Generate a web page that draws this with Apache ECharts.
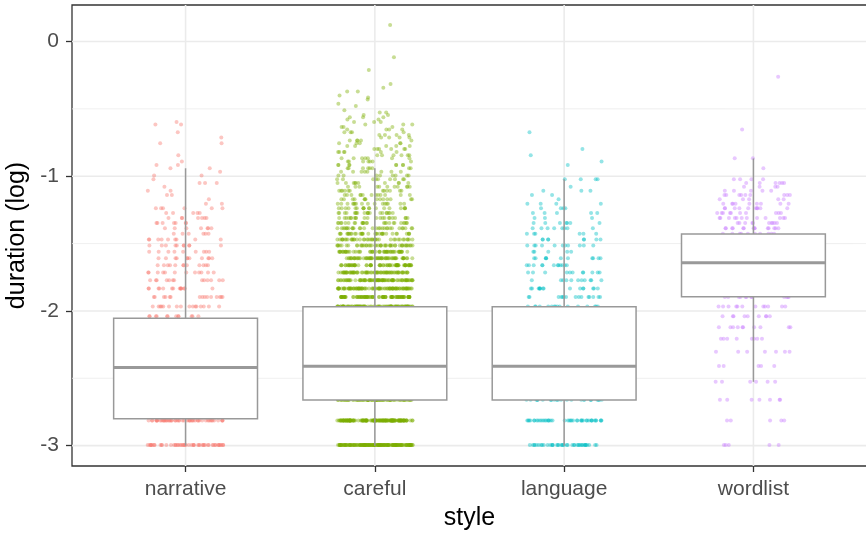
<!DOCTYPE html>
<html>
<head>
<meta charset="utf-8">
<script src="https://cdn.jsdelivr.net/npm/echarts@6/dist/echarts.min.js"></script>
<style>
  html, body { margin: 0; padding: 0; background: #fff; }
  #main { width: 866px; height: 535px; }
</style>
</head>
<body>
<div id="main"></div>
<script>
// 类别 / categories
var styles = ['narrative', 'careful', 'language', 'wordlist'];
var colors = ['#F8766D', '#7CAE00', '#00BFC4', '#C77CFF'];
var yTicks = [-3, -2, -1, 0];
var yMinor = [-2.5, -1.5, -0.5];

// box stats, log duration: [lower whisker, Q1, median, Q3, upper whisker]
var narrativeBox = [-3.0, -2.80, -2.42, -2.055, -0.941];
var carefulBox = [-3.0, -2.661, -2.41, -1.969, -0.94];
var languageBox = [-3.0, -2.661, -2.41, -1.969, -1.022];
var wordlistBox = [-2.526, -1.895, -1.642, -1.429, -0.868];

// jittered points: duration (s) and how many points sit at that duration
// (only the points that show outside the boxes)
var narrativeDur = [0.05, 0.06, 0.13, 0.14, 0.15, 0.16, 0.17, 0.18, 0.19, 0.20, 0.21, 0.22, 0.23, 0.24, 0.25, 0.26, 0.27, 0.28, 0.29, 0.30, 0.31, 0.32, 0.33, 0.34, 0.35, 0.36, 0.37, 0.38, 0.39, 0.40, 0.41, 0.43, 0.47, 0.49, 0.51, 0.54, 0.55];
var narrativeCnt = [50, 50, 12, 16, 15, 14, 13, 12, 12, 11, 9, 10, 9, 6, 7, 7, 7, 5, 6, 2, 1, 2, 2, 1, 3, 1, 2, 1, 2, 2, 1, 1, 2, 1, 1, 2, 1];

var carefulDur = [0.05, 0.06, 0.07, 0.14, 0.15, 0.16, 0.17, 0.18, 0.19, 0.20, 0.21, 0.22, 0.23, 0.24, 0.25, 0.26, 0.27, 0.28, 0.29, 0.30, 0.31, 0.32, 0.33, 0.34, 0.35, 0.36, 0.37, 0.38, 0.39, 0.40, 0.41, 0.42, 0.43, 0.44, 0.45, 0.46, 0.47, 0.48, 0.49, 0.50, 0.51, 0.52, 0.53, 0.54, 0.55, 0.56, 0.57, 0.58, 0.59, 0.60, 0.62, 0.63, 0.65, 0.66, 0.67, 0.69, 0.71, 0.73, 0.81, 0.89, 1.13];
var carefulCnt = [150, 150, 100, 90, 90, 85, 78, 70, 64, 56, 50, 44, 38, 33, 29, 25, 22, 20, 18, 16, 14, 13, 12, 11, 10, 9, 8, 8, 8, 8, 7, 7, 6, 6, 6, 5, 5, 5, 4, 4, 4, 4, 3, 3, 3, 2, 3, 2, 2, 1, 1, 1, 1, 1, 1, 2, 1, 1, 1, 1, 1];

var languageDur = [0.05, 0.06, 0.07, 0.14, 0.15, 0.16, 0.17, 0.18, 0.19, 0.20, 0.21, 0.22, 0.23, 0.24, 0.25, 0.26, 0.27, 0.28, 0.29, 0.30, 0.31, 0.32, 0.33, 0.34, 0.36, 0.40, 0.41, 0.43, 0.45, 0.51];
var languageCnt = [40, 42, 28, 16, 15, 15, 11, 11, 12, 11, 5, 11, 8, 6, 8, 7, 3, 5, 4, 4, 1, 2, 3, 1, 4, 1, 1, 1, 1, 1];

var wordlistDur = [0.05, 0.06, 0.07, 0.08, 0.09, 0.10, 0.11, 0.12, 0.13, 0.14, 0.15, 0.24, 0.25, 0.26, 0.27, 0.28, 0.29, 0.30, 0.31, 0.32, 0.33, 0.34, 0.35, 0.36, 0.39, 0.42, 0.52, 0.77];
var wordlistCnt = [5, 5, 7, 6, 5, 7, 8, 10, 9, 12, 12, 10, 14, 10, 12, 10, 10, 9, 5, 9, 5, 4, 6, 4, 1, 2, 1, 1];

var boxWidth = 0.76;
var jitter = 0.2;
var font = "'Liberation Sans', Arial, Helvetica, sans-serif";

// spread the points of each duration across the jitter band (quadratic Weyl sequence)
function jitterPoints(catIdx, durs, counts) {
    var pts = [];
    var k = 0;
    for (var i = 0; i < durs.length; i++) {
        for (var j = 0; j < counts[i]; j++) {
            var f = (k * k * 0.5 * 0.6180339887 + k * 0.4142135 + catIdx * 0.37) % 1;
            pts.push([catIdx + 1 + (f - 0.5) * 2 * jitter, Math.log(durs[i])]);
            k++;
        }
    }
    return pts;
}

var pointSets = [
    jitterPoints(0, narrativeDur, narrativeCnt),
    jitterPoints(1, carefulDur, carefulCnt),
    jitterPoints(2, languageDur, languageCnt),
    jitterPoints(3, wordlistDur, wordlistCnt)
];
var boxes = [narrativeBox, carefulBox, languageBox, wordlistBox].map(function (b, i) {
    return [i + 1].concat(b);
});

// 网格线: [axis, value, width]
var gridLines = [];
yTicks.forEach(function (v) { gridLines.push([0, v, 1.6]); });
yMinor.forEach(function (v) { gridLines.push([0, v, 0.8]); });
styles.forEach(function (s, i) { gridLines.push([1, i + 1, 1.6]); });

var series = [{
    type: 'custom',
    z: 0,
    silent: true,
    data: gridLines,
    encode: { x: -1, y: -1 },
    renderItem: function (params, api) {
        var cs = params.coordSys;
        var isX = api.value(0) === 1;
        var v = api.value(1);
        var shape;
        if (isX) {
            var px = api.coord([v, 0])[0];
            shape = { x1: px, y1: cs.y, x2: px, y2: cs.y + cs.height };
        } else {
            var py = api.coord([1, v])[1];
            shape = { x1: cs.x, y1: py, x2: cs.x + cs.width, y2: py };
        }
        return {
            type: 'line',
            shape: shape,
            style: { stroke: '#EBEBEB', lineWidth: api.value(2) }
        };
    }
}];
pointSets.forEach(function (pts, i) {
    series.push({
        type: 'scatter',
        name: styles[i],
        data: pts,
        z: 2,
        symbolSize: 4,
        silent: true,
        itemStyle: { color: colors[i], opacity: 0.42 }
    });
});
series.push({
    type: 'custom',
    z: 3,
    silent: true,
    data: boxes,
    encode: { x: 0, y: [1, 2, 3, 4, 5] },
    renderItem: function (params, api) {
        var x = api.value(0);
        var half = boxWidth / 2;
        var low = api.coord([x, api.value(1)]);
        var q1 = api.coord([x, api.value(2)]);
        var q3 = api.coord([x, api.value(4)]);
        var high = api.coord([x, api.value(5)]);
        var left = api.coord([x - half, api.value(3)]);
        var right = api.coord([x + half, api.value(3)]);
        var lineCol = '#999999';
        return {
            type: 'group',
            children: [{
                type: 'line',
                shape: { x1: low[0], y1: low[1], x2: q1[0], y2: q1[1] },
                style: { stroke: lineCol, lineWidth: 1.5 }
            }, {
                type: 'line',
                shape: { x1: q3[0], y1: q3[1], x2: high[0], y2: high[1] },
                style: { stroke: lineCol, lineWidth: 1.5 }
            }, {
                type: 'rect',
                shape: { x: left[0], y: q3[1], width: right[0] - left[0], height: q1[1] - q3[1] },
                style: { fill: '#ffffff', stroke: lineCol, lineWidth: 1.5 }
            }, {
                type: 'line',
                shape: { x1: left[0], y1: left[1], x2: right[0], y2: right[1] },
                style: { stroke: lineCol, lineWidth: 3 }
            }]
        };
    }
});

var myChart = echarts.init(document.getElementById('main'));
myChart.setOption({
    animation: false,
    grid: {
        left: 72,
        top: 5,
        width: 795,
        height: 461,
        show: true,
        borderColor: '#333333',
        borderWidth: 1.3,
        backgroundColor: 'transparent',
        containLabel: false,
        outerBoundsMode: 'none'
    },
    xAxis: {
        type: 'value',
        position: 'bottom',
        min: 0.4,
        max: 4.6,
        name: 'style',
        nameLocation: 'middle',
        nameGap: 40,
        nameTextStyle: { color: '#000', fontSize: 25, fontFamily: font },
        axisLine: { show: false, onZero: false },
        splitLine: { show: false },
        axisTick: { show: true, length: 6, customValues: [1, 2, 3, 4], lineStyle: { color: '#333', width: 1.3 } },
        axisLabel: {
            customValues: [1, 2, 3, 4],
            margin: 13,
            color: '#4D4D4D',
            fontSize: 21,
            fontFamily: font,
            formatter: function (v) { return styles[Math.round(v) - 1]; }
        }
    },
    yAxis: {
        type: 'value',
        position: 'left',
        min: -3.151,
        max: 0.271,
        name: 'duration (log)',
        nameLocation: 'middle',
        nameRotate: 90,
        nameGap: 40,
        nameTextStyle: { color: '#000', fontSize: 25, fontFamily: font },
        axisLine: { show: false, onZero: false },
        splitLine: { show: false },
        axisTick: { show: true, length: 6, customValues: yTicks, lineStyle: { color: '#333', width: 1.3 } },
        axisLabel: {
            customValues: yTicks,
            margin: 13,
            color: '#4D4D4D',
            fontSize: 21,
            fontFamily: font,
            formatter: function (v) { return String(Math.round(v)); }
        }
    },
    series: series
});
</script>
</body>
</html>
